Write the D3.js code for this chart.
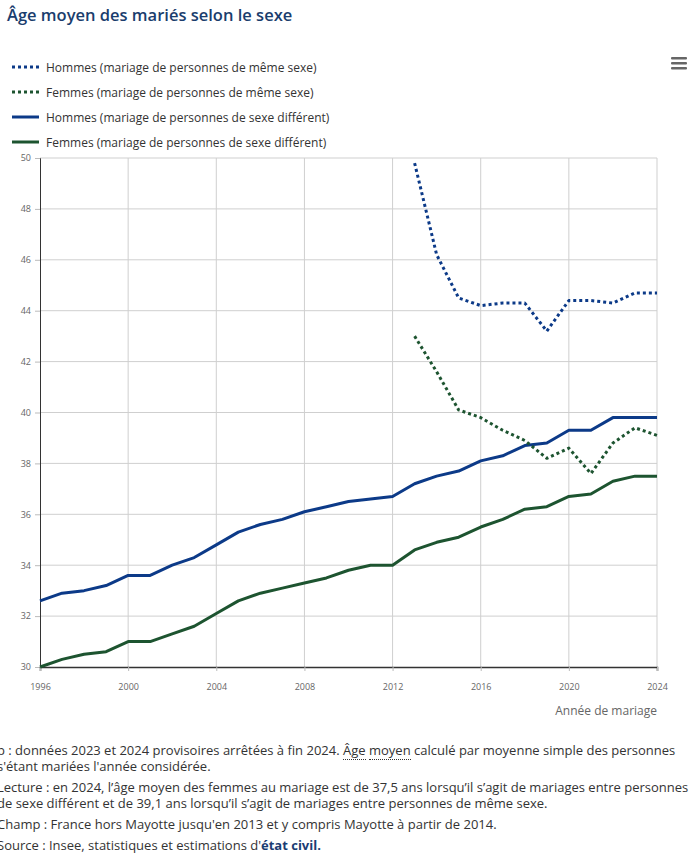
<!DOCTYPE html>
<html>
<head>
    <meta charset="utf-8">
    <title>Âge moyen des mariés selon le sexe</title>
    <script src="https://d3js.org/d3.v7.min.js"></script>
    <style>
        body { margin: 0; background: #fff; font-family: "Open Sans", sans-serif; overflow: hidden; }
        #chart { display: block; }
        .notes { position: absolute; left: -3px; top: 742px; width: 696px; font-size: 13px; color: #333; line-height: 16px; }
        .notes p { margin: 0 0 5px 0; }
        .notes .dotted { border-bottom: 1px dotted #333; }
        .notes b { color: #1a3d73; }
    </style>
</head>
<body>
    <svg id="chart" width="698" height="735"></svg>
    <div class="notes">
        <p>p : données 2023 et 2024 provisoires arrêtées à fin 2024. <span class="dotted">Âge</span> <span class="dotted">moyen</span> calculé par moyenne simple des personnes s'étant mariées l'année considérée.</p>
        <p>Lecture : en 2024, l’âge moyen des femmes au mariage est de 37,5 ans lorsqu’il s’agit de mariages entre personnes de sexe différent et de 39,1 ans lorsqu’il s’agit de mariages entre personnes de même sexe.</p>
        <p>Champ : France hors Mayotte jusqu'en 2013 et y compris Mayotte à partir de 2014.</p>
        <p>Source : Insee, statistiques et estimations d'<b>état civil.</b></p>
    </div>
    <script>
        // years and series
        const years = d3.range(1996, 2025);
        const yearsSame = d3.range(2013, 2025);

        const hommesDiff = [32.6, 32.9, 33.0, 33.2, 33.6, 33.6, 34.0, 34.3, 34.8, 35.3,
            35.6, 35.8, 36.1, 36.3, 36.5, 36.6, 36.7, 37.2, 37.5, 37.7,
            38.1, 38.3, 38.7, 38.8, 39.3, 39.3, 39.8, 39.8, 39.8];
        const femmesDiff = [30.0, 30.3, 30.5, 30.6, 31.0, 31.0, 31.3, 31.6, 32.1, 32.6,
            32.9, 33.1, 33.3, 33.5, 33.8, 34.0, 34.0, 34.6, 34.9, 35.1,
            35.5, 35.8, 36.2, 36.3, 36.7, 36.8, 37.3, 37.5, 37.5];
        const hommesSame = [49.8, 46.2, 44.5, 44.2, 44.3, 44.3, 43.2, 44.4, 44.4, 44.3, 44.7, 44.7];
        const femmesSame = [43.0, 41.6, 40.1, 39.8, 39.3, 38.9, 38.2, 38.6, 37.6, 38.8, 39.4, 39.1];

        const xTicks = [1996, 2000, 2004, 2008, 2012, 2016, 2020, 2024];
        const yTicks = [30, 32, 34, 36, 38, 40, 42, 44, 46, 48, 50];

        const blue = "#0c3a88";
        const green = "#1d5430";

        const series = [
            { name: "Hommes (mariage de personnes de même sexe)", x: yearsSame, y: hommesSame, color: blue, dotted: true },
            { name: "Femmes (mariage de personnes de même sexe)", x: yearsSame, y: femmesSame, color: green, dotted: true },
            { name: "Hommes (mariage de personnes de sexe différent)", x: years, y: hommesDiff, color: blue, dotted: false },
            { name: "Femmes (mariage de personnes de sexe différent)", x: years, y: femmesDiff, color: green, dotted: false }
        ];

        const svg = d3.select("#chart");

        svg.append("text")
            .attr("x", 7)
            .attr("y", 21)
            .attr("font-size", 16.5)
            .attr("font-weight", 600)
            .attr("fill", "#1a3d6d")
            .text("Âge moyen des mariés selon le sexe");

        // menu icon
        const menu = svg.append("g").attr("transform", "translate(671,57)");
        [0, 5, 10].forEach(dy => {
            menu.append("rect").attr("x", 0).attr("y", dy).attr("width", 16).attr("height", 2.6)
                .attr("rx", 1).attr("fill", "#666");
        });

        // legend
        const legend = svg.selectAll(".legend")
            .data(series)
            .enter()
            .append("g")
            .attr("class", "legend")
            .attr("transform", (d, i) => `translate(12,${67 + i * 25})`);

        legend.append("line")
            .attr("x1", 0).attr("x2", 27).attr("y1", 0).attr("y2", 0)
            .attr("stroke", d => d.color)
            .attr("stroke-width", 3)
            .attr("stroke-dasharray", d => d.dotted ? "3,3" : null);

        legend.append("text")
            .attr("x", 34)
            .attr("y", 4.5)
            .attr("font-size", 12)
            .attr("fill", "#333")
            .text(d => d.name);

        const margin = { left: 40, right: 41, top: 158, bottom: 68 };
        const width = 698 - margin.left - margin.right;
        const height = 667 - margin.top;

        const x = d3.scaleLinear().domain([1996, 2024]).range([margin.left, margin.left + width]);
        const y = d3.scaleLinear().domain([30, 50]).range([margin.top + height, margin.top]);

        const g = svg.append("g");

        // grid
        g.selectAll(".hgrid")
            .data(yTicks.slice(1))
            .enter()
            .append("line")
            .attr("class", "hgrid")
            .attr("x1", x(1996)).attr("x2", x(2024))
            .attr("y1", d => y(d)).attr("y2", d => y(d))
            .attr("stroke", "#cfcfcf").attr("stroke-width", 1);

        g.selectAll(".vgrid")
            .data(xTicks.slice(1))
            .enter()
            .append("line")
            .attr("class", "vgrid")
            .attr("x1", d => x(d)).attr("x2", d => x(d))
            .attr("y1", y(50)).attr("y2", y(30))
            .attr("stroke", "#cfcfcf").attr("stroke-width", 1);

        // axes
        const yAxis = g.append("g")
            .attr("transform", `translate(${margin.left},0)`)
            .call(d3.axisLeft(y).tickValues(yTicks).tickSize(5).tickPadding(4));
        yAxis.select(".domain").attr("stroke", "#333");
        yAxis.selectAll(".tick line").attr("stroke", "#bbb");
        yAxis.selectAll("text").attr("font-size", 9).attr("fill", "#666").attr("font-family", "Open Sans");

        const xAxis = g.append("g")
            .attr("transform", `translate(0,${y(30)})`)
            .call(d3.axisBottom(x).tickValues(xTicks).tickFormat(d3.format("d")).tickSize(4).tickPadding(13));
        xAxis.select(".domain").attr("stroke", "#333").attr("stroke-width", 1.5);
        xAxis.selectAll(".tick line").attr("stroke", "#bbb");
        xAxis.selectAll("text").attr("font-size", 9).attr("fill", "#666").attr("font-family", "Open Sans");

        svg.append("text")
            .attr("x", x(2024))
            .attr("y", 715)
            .attr("text-anchor", "end")
            .attr("font-size", 12)
            .attr("fill", "#666")
            .text("Année de mariage");

        // lines
        const line = d3.line()
            .x(d => x(d[0]))
            .y(d => y(d[1]));

        g.selectAll(".serie")
            .data(series.slice().reverse())
            .enter()
            .append("path")
            .attr("class", "serie")
            .attr("fill", "none")
            .attr("stroke", d => d.color)
            .attr("stroke-width", 3)
            .attr("stroke-linejoin", "round")
            .attr("stroke-dasharray", d => d.dotted ? "3,3" : null)
            .attr("d", d => line(d3.zip(d.x, d.y)));
    </script>
</body>
</html>
